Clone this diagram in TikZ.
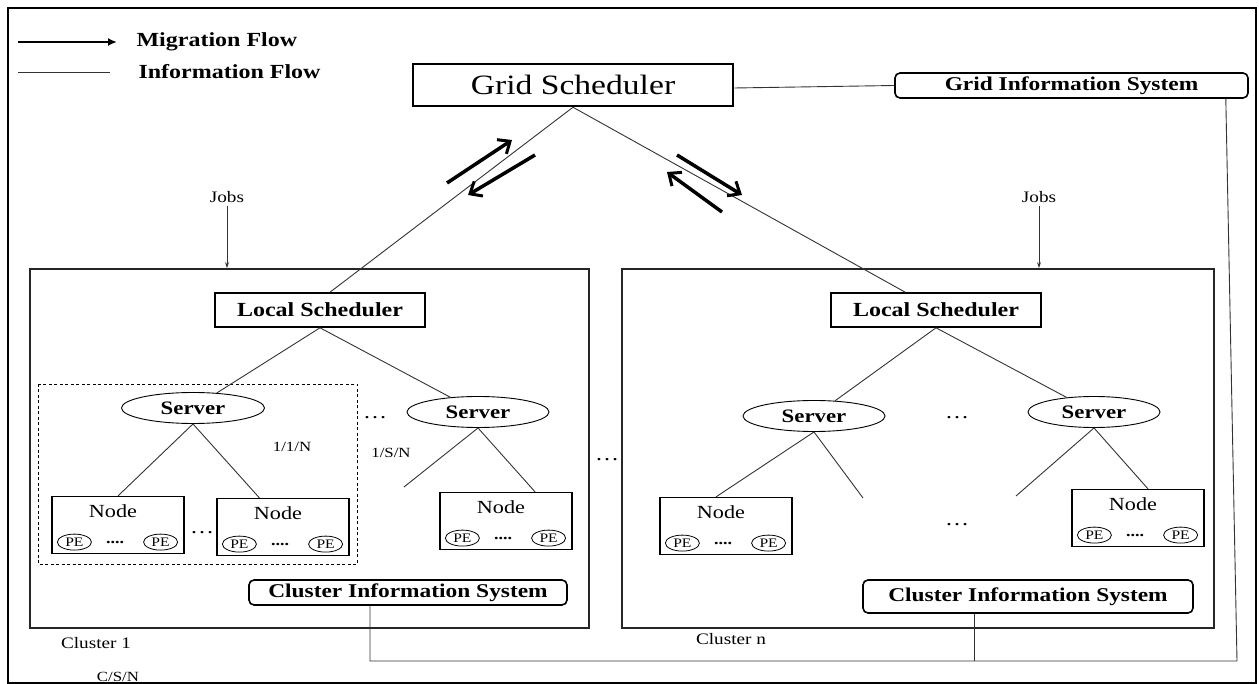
\documentclass[tikz,border=0pt]{standalone}
\usepackage{fontspec}
\setmainfont[FakeStretch=1.2]{Liberation Serif}
\usetikzlibrary{arrows.meta,shapes.geometric,calc}
\newcommand\legfont{\fontsize{20}{22}\selectfont\bfseries}
\tikzset{
  info/.style={line width=0.9pt, black!80},
  migr/.style={line width=3.5pt, -{Straight Barb[length=10pt,width=17pt,line width=3pt]}},
  sched/.style={draw, line width=2pt, inner sep=0pt},
  local/.style={sched, line width=1.6pt, minimum width=210pt, minimum height=34pt, font=\fontsize{20}{22}\selectfont\bfseries},
  infosys/.style={draw, line width=1.6pt, rounded corners=5pt, inner sep=0pt, font=\fontsize{19.5}{21}\selectfont\bfseries},
  server/.style={draw, ellipse, line width=0.9pt, inner sep=0pt, minimum width=142pt, minimum height=31pt, font=\fontsize{19}{21}\selectfont\bfseries},
  nodebox/.style={draw, line width=1.2pt, minimum width=132pt, minimum height=57pt, inner sep=0pt},
  pe/.style={draw, ellipse, line width=0.8pt, inner sep=0pt, minimum width=34pt, minimum height=16pt, font=\fontsize{13}{14}\selectfont},
  cluster/.style={draw, line width=1.8pt, black!85, inner sep=0pt},
  lbl/.style={font=\fontsize{16}{17}\selectfont},
  small/.style={font=\fontsize{14}{15}\selectfont},
}
\begin{document}
\begin{tikzpicture}[x=1pt, y=-1pt]
\useasboundingbox (0,0) rectangle (1259,684);
\draw[line width=2.5pt] (8,8) rectangle (1256,683);

\node[anchor=west, font=\legfont] (legmig) at (133,42) {Migration Flow};
\node[anchor=west, font=\legfont] (leginf) at (135,72) {Information Flow};
\draw[line width=2.2pt, -{Latex[length=9pt,width=8pt]}] (18,42) -- ++(99,0);
\draw[info] (18,72) -- ++(92,0);

\node[sched, line width=2.5pt, minimum width=320pt, minimum height=42pt, font=\fontsize{28}{30}\selectfont] (gs) at (573,85) {Grid Scheduler};
\node[infosys, minimum width=353pt, minimum height=25pt] (gis) at (1071.5,85.5) {Grid Information System};

\node[cluster, minimum width=559pt, minimum height=359pt] (clA) at (309.5,448.5) {};
\node[cluster, minimum width=592pt, minimum height=359pt] (clB) at (918,448.5) {};
\draw[dashed, line width=0.9pt, dash pattern=on 3pt off 2.5pt] (38,384) rectangle (357,564);

\node[local] (lsA) at (320,310) {Local Scheduler};
\node[local] (lsB) at (936,310) {Local Scheduler};

\foreach \n/\x/\y/\w in {sA1/193/408/143, sA2/478/412/142, sB1/814/416/142, sB2/1094/412/132}
  \node[server, minimum width=\w pt] (\n) at (\x,\y) {Server};

\foreach \n/\x/\y in {nA1/118/525, nA2/283/527, nA3/506/521, nB1/726/526, nB2/1138/518}{
  \node[nodebox] (\n) at (\x,\y) {};
  \node[font=\fontsize{18.5}{19}\selectfont] (\n-l) at ($(\n.north)+(-5,15)$) {Node};
  \node[pe] (\n-p1) at ($(\n.south west)+(23,-12)$) {PE};
  \node[pe] (\n-p2) at ($(\n.south east)+(-24,-12)$) {PE};
  \node[font=\fontsize{15}{16}\selectfont\bfseries] (\n-d) at ($(\n.south)+(-3,-12)$) {....};
}

\node[infosys, minimum width=318pt, minimum height=25pt] (cisA) at (408,592.5) {Cluster Information System};
\node[infosys, minimum width=330pt, minimum height=33pt] (cisB) at (1028,596.5) {Cluster Information System};

\draw[info] (gs.east) ++(0,3) -- (gis.west);
\draw[info] (gs.south) -- ($(lsA.north)+(10,0)$);
\draw[info] (gs.south) -- (lsB.150);
\draw[migr] (447,183) -- (512,140);
\draw[migr] (535,155) -- (468,195);
\draw[migr] (677,155) -- (742,195);
\draw[migr] (722,212) -- (667,172);

\node[lbl] (jobsA) at (227,197) {Jobs};
\node[lbl] (jobsB) at (1039,197) {Jobs};
\draw[info, -{Stealth[length=6pt,width=4pt]}] (jobsA.south) -- (jobsA |- clA.north);
\draw[info, -{Stealth[length=6pt,width=4pt]}] (jobsB.south) -- (jobsB |- clB.north);

\draw[info] (lsA.south) -- (sA1);
\draw[info] (lsA.south) -- (sA2);
\draw[info] (lsB.south) -- (sB1);
\draw[info] (lsB.south) -- (sB2);
\coordinate (fA) at (404,487);
\coordinate (fB1) at (863,498);
\coordinate (fB2) at (1016,496);
\draw[info] (sA1.south) -- (nA1.north);
\draw[info] (sA1.south) -- (nA2.129);
\draw[info] (sA2.south) -- (fA);
\draw[info] (sA2.south) -- (nA3.45);
\draw[info] (sB1.south) -- (nB1.109);
\draw[info] (sB1.south) -- (fB1);
\draw[info] (sB2.south) -- (fB2);
\draw[info] (sB2.south) -- (nB2.71);

\foreach \n/\x/\y in {dA/202/533, dB/375/418, dC/607/460, dD/957/418, dE/957/525}
  \node[font=\fontsize{20}{20}\selectfont] (\n) at (\x,\y) {\dots};
\node[small] (lab11) at (292,447) {1/1/N};
\node[small] (lab1s) at (391,453) {1/S/N};
\node[lbl] (capA) at (96,643) {Cluster 1};
\node[lbl] (capB) at (731,639) {Cluster n};
\node[small] (csn) at (118,677) {C/S/N};

\coordinate (gisfoot) at (1237,661);
\coordinate (cisAfoot) at (370,661);
\coordinate (cisBfoot) at (974,661);
\draw[info] ($(gis.south east)+(-23,0)$) -- (gisfoot) -- (cisAfoot) -- (cisAfoot |- cisA.south);
\draw[info] (cisBfoot) -- (cisBfoot |- cisB.south);
\end{tikzpicture}
\end{document}
